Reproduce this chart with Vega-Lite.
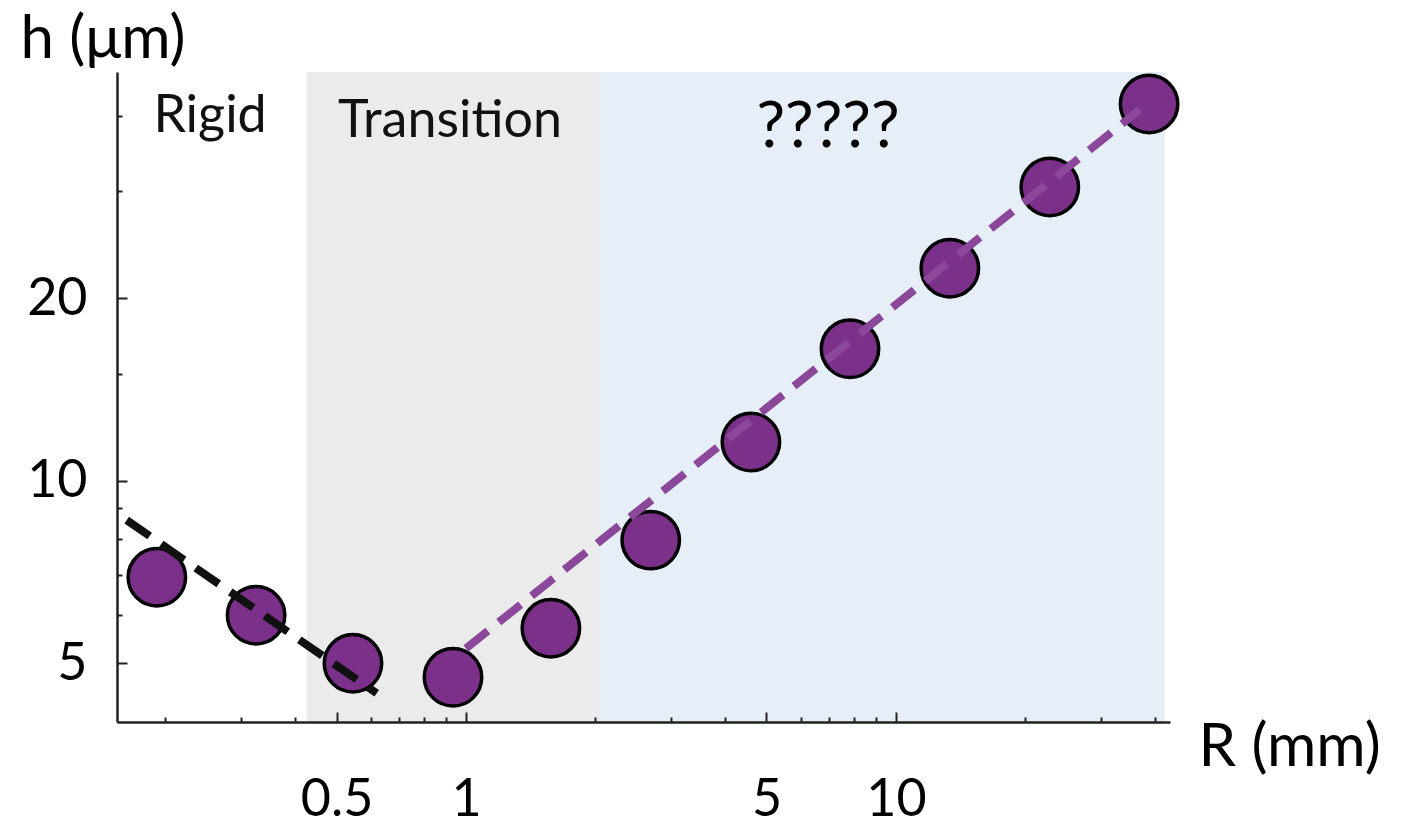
{
  "$schema": "https://vega.github.io/schema/vega-lite/v6.json",
  "width": 1053,
  "height": 650,
  "autosize": {"type": "none"},
  "padding": {"left": 117, "top": 72, "right": 234, "bottom": 104},
  "background": "white",
  "config": {"view": {"stroke": null}, "font": "Lato"},
  "datasets": {
    "regions": [
      {"region": "Transition", "R1": 0.427, "R2": 2.05},
      {"region": "?????", "R1": 2.05, "R2": 42.2}
    ],
    "points": [
      {"R": 0.191, "h": 6.93},
      {"R": 0.325, "h": 6.0},
      {"R": 0.546, "h": 5.0},
      {"R": 0.933, "h": 4.74},
      {"R": 1.576, "h": 5.71},
      {"R": 2.69, "h": 7.98},
      {"R": 4.6, "h": 11.58},
      {"R": 7.82, "h": 16.5},
      {"R": 13.35, "h": 22.4},
      {"R": 22.8, "h": 30.5},
      {"R": 38.8, "h": 41.8}
    ],
    "fits": [
      {"fit": "rigid", "R": 0.1625, "h": 8.61},
      {"fit": "rigid", "R": 0.62, "h": 4.46},
      {"fit": "soft", "R": 1.0, "h": 5.29},
      {"fit": "soft", "R": 36.9, "h": 40.9}
    ],
    "labels": [
      {"label": "Rigid", "R": 0.254, "h": 37.6},
      {"label": "Transition", "R": 0.918, "h": 36.9}
    ],
    "unknown": [
      {"label": "?????", "R": 6.95, "h": 35.5}
    ]
  },
  "encoding": {
    "x": {
      "field": "R",
      "type": "quantitative",
      "scale": {"type": "log", "domain": [0.1543, 43.4], "nice": false},
      "axis": {
        "zindex": 1,
        "values": [0.2, 0.3, 0.4, 0.5, 0.6, 0.7, 0.8, 0.9, 1, 2, 3, 4, 5, 6, 7, 8, 9, 10, 20, 30, 40],
        "labelExpr": "indexof([0.5, 1, 5, 10], datum.value) >= 0 ? format(datum.value, '~g') : ''",
        "tickSize": {"condition": {"test": "indexof([0.5, 1, 5, 10], datum.value) >= 0", "value": -10}, "value": -5},
        "tickWidth": 2,
        "tickColor": "#222222",
        "domainColor": "#222222",
        "domainWidth": 2.5,
        "grid": false,
        "labelFontSize": 52,
        "labelFont": "Lato",
        "labelColor": "black",
        "labelPadding": 62,
        "labelFlush": false,
        "labelOverlap": false,
        "title": "R (mm)",
        "titleFont": "Lato",
        "titleFontSize": 60,
        "titleFontWeight": "normal",
        "titleColor": "black",
        "titleAlign": "left",
        "titleBaseline": "alphabetic",
        "titleX": 1081,
        "titleY": 43
      }
    },
    "y": {
      "field": "h",
      "type": "quantitative",
      "scale": {"type": "log", "domain": [4.0, 47.2], "nice": false},
      "axis": {
        "zindex": 1,
        "values": [5, 6, 7, 8, 9, 10, 15, 20, 30, 40],
        "labelExpr": "indexof([5, 10, 20], datum.value) >= 0 ? format(datum.value, '~g') : ''",
        "tickSize": {"condition": {"test": "indexof([5, 10, 20], datum.value) >= 0", "value": -10}, "value": -5},
        "tickWidth": 2,
        "tickColor": "#222222",
        "domainColor": "#222222",
        "domainWidth": 2.5,
        "grid": false,
        "labelFontSize": 52,
        "labelFont": "Lato",
        "labelColor": "black",
        "labelPadding": 40,
        "labelFlush": false,
        "labelOverlap": false,
        "title": "h (μm)",
        "titleFont": "Lato",
        "titleFontSize": 60,
        "titleFontWeight": "normal",
        "titleColor": "black",
        "titleAngle": 0,
        "titleAlign": "left",
        "titleBaseline": "alphabetic",
        "titleX": -97,
        "titleY": -15
      }
    }
  },
  "resolve": {"scale": {"color": "independent"}},
  "layer": [
    {
      "data": {"name": "regions"},
      "mark": {"type": "rect"},
      "encoding": {
        "x": {"field": "R1", "type": "quantitative"},
        "x2": {"field": "R2"},
        "y": null,
        "color": {
          "field": "region",
          "type": "nominal",
          "scale": {"domain": ["Transition", "?????"], "range": ["#ebebeb", "#e6eef7"]},
          "legend": null
        }
      }
    },
    {
      "data": {"name": "points"},
      "mark": {"type": "point", "shape": "circle", "filled": true, "size": 3300, "fill": "#7b3089", "stroke": "black", "strokeWidth": 3.5, "opacity": 1}
    },
    {
      "data": {"name": "fits"},
      "mark": {"type": "line", "strokeWidth": 8, "strokeDash": [28, 14], "strokeCap": "butt"},
      "encoding": {
        "color": {
          "field": "fit",
          "type": "nominal",
          "scale": {"domain": ["rigid", "soft"], "range": ["#111111", "#8b489b"]},
          "legend": null
        }
      }
    },
    {
      "data": {"name": "labels"},
      "mark": {"type": "text", "fontSize": 52, "font": "Lato", "color": "#111111", "align": "center", "baseline": "alphabetic"},
      "encoding": {"text": {"field": "label"}}
    },
    {
      "data": {"name": "unknown"},
      "mark": {"type": "text", "fontSize": 64, "font": "Lato", "color": "black", "align": "center", "baseline": "alphabetic"},
      "encoding": {"text": {"field": "label"}}
    }
  ]
}
